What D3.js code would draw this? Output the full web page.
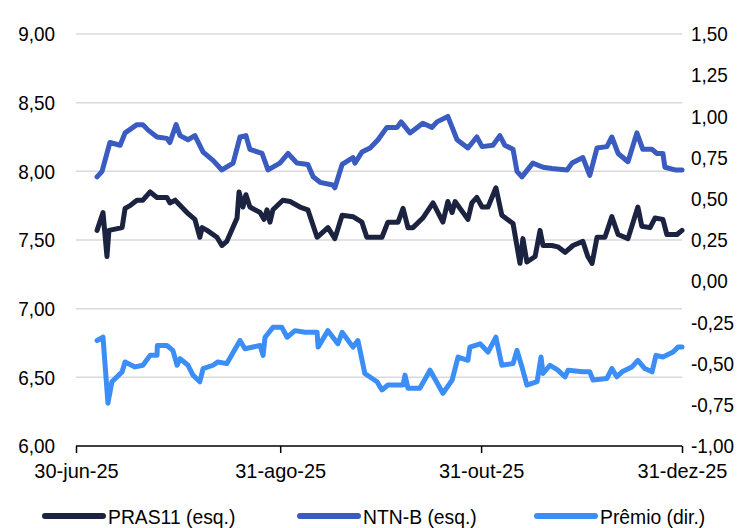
<!DOCTYPE html>
<html>
<head>
<meta charset="utf-8">
<script src="https://cdn.jsdelivr.net/npm/d3@7"></script>
<style>
body { margin: 0; background: #fff; }
text { font-family: "Liberation Sans", Arial, sans-serif; fill: #000; }
</style>
</head>
<body>
<div id="chart"></div>
<script>
// days since 30-jun-25
var ntnbDays = [6.4,7.9,10.3,13.4,14.9,18.5,20.3,21.9,24.6,27.6,28.5,30.4,31.6,34,36.1,38.6,41.6,44.3,47.7,49.8,51.6,52.8,56.5,58.3,61.9,64.4,67.1,70.4,72,74.1,78,78.6,80.8,84.1,84.7,86.8,89.3,91.7,94.4,97.5,98.7,101.4,105.3,108.1,109.6,112.9,115.7,119,121.7,123.3,126.6,128.7,130.2,132.7,133.9,135.4,138.7,141.8,144.5,149.1,150.6,153.9,156,158.2,161.2,162.7,164.6,167.6,170.3,172.1,174.9,176.4,178.2,178.8,181.9,184];
var ntnbVals = [7.96,8.00,8.21,8.19,8.28,8.34,8.34,8.30,8.25,8.24,8.21,8.34,8.26,8.23,8.26,8.14,8.08,8.01,8.06,8.25,8.26,8.16,8.13,8.01,8.06,8.13,8.06,8.05,7.96,7.92,7.90,7.88,8.05,8.10,8.06,8.14,8.17,8.23,8.32,8.32,8.36,8.28,8.35,8.32,8.36,8.40,8.23,8.17,8.25,8.18,8.19,8.26,8.19,8.16,8.00,7.96,8.06,8.03,8.02,8.01,8.06,8.10,7.97,8.17,8.18,8.25,8.13,8.07,8.28,8.16,8.16,8.13,8.13,8.03,8.01,8.01];

var prasDays = [6.4,8.2,9.4,10,14,14.9,16.4,18.5,20.3,22.5,24.6,27.6,28.5,30.1,33.7,36.1,37.6,38.3,39.8,42.8,44.3,45.8,48.9,49.5,50.7,51.6,52.8,55.9,57.1,58,58.9,59.8,62.8,65,68,70.4,73.2,76.5,78.6,80.8,84.1,86.8,88.3,90.8,92.9,94.7,97.8,99.3,100.8,102.3,105.3,108.4,111.4,112.9,114.2,115.1,119,120.2,121.7,123.3,125.1,127.5,129.3,132.7,134.8,135.7,136.9,139.4,140.9,141.8,144.5,146.3,148.5,150.9,153.9,155.4,156.7,158.2,160.6,162.7,164.6,167.6,170.6,171.8,174.3,175.8,178.2,179.4,182.5,184];
var prasVals = [7.57,7.70,7.38,7.57,7.59,7.73,7.75,7.79,7.79,7.85,7.81,7.81,7.77,7.79,7.70,7.65,7.52,7.59,7.57,7.52,7.46,7.49,7.66,7.85,7.74,7.83,7.74,7.70,7.65,7.72,7.63,7.72,7.79,7.78,7.74,7.72,7.52,7.59,7.51,7.68,7.67,7.63,7.52,7.52,7.52,7.63,7.63,7.73,7.59,7.59,7.66,7.77,7.63,7.78,7.70,7.78,7.65,7.77,7.81,7.74,7.74,7.88,7.68,7.62,7.33,7.51,7.34,7.38,7.57,7.46,7.46,7.45,7.41,7.46,7.49,7.38,7.33,7.52,7.52,7.67,7.54,7.51,7.74,7.60,7.59,7.66,7.65,7.54,7.54,7.57];

var premioDays = [6.4,8.2,9.7,10.9,14,14.9,17.9,20.3,22.5,24.6,24.7,27.6,29.4,30.7,31.6,34,35.5,37.6,38.6,41.6,43.1,45.8,49.8,51.3,55.9,56.8,57.4,59.8,62.5,64.1,66.5,69.5,73.2,73.5,76.5,79.5,80.8,84.1,85.6,87.7,91.4,92.9,94.7,99.3,99.9,100.8,104.4,107.5,111.4,114.2,116,119,119.6,122.7,125.1,127.5,129.3,132.7,133.9,135.4,136.9,140,141.2,141.8,143.9,146.3,148.5,149.4,153.9,156,157,161.2,162.7,164.2,165.8,168.8,170.6,172.7,174.9,176.1,178.2,181.3,182.8,184];
var premioVals = [-0.36,-0.34,-0.74,-0.61,-0.55,-0.49,-0.52,-0.51,-0.45,-0.45,-0.39,-0.39,-0.42,-0.51,-0.47,-0.51,-0.57,-0.61,-0.53,-0.51,-0.49,-0.50,-0.36,-0.41,-0.39,-0.45,-0.34,-0.28,-0.28,-0.34,-0.30,-0.31,-0.31,-0.40,-0.30,-0.38,-0.31,-0.40,-0.36,-0.56,-0.61,-0.66,-0.63,-0.63,-0.57,-0.65,-0.65,-0.54,-0.68,-0.60,-0.46,-0.48,-0.40,-0.38,-0.43,-0.34,-0.51,-0.50,-0.42,-0.52,-0.63,-0.61,-0.46,-0.56,-0.51,-0.54,-0.58,-0.54,-0.55,-0.55,-0.60,-0.59,-0.53,-0.58,-0.55,-0.52,-0.48,-0.53,-0.55,-0.45,-0.46,-0.43,-0.40,-0.40];

var leftTicks = [6, 6.5, 7, 7.5, 8, 8.5, 9];
var rightTicks = [-1, -0.75, -0.5, -0.25, 0, 0.25, 0.5, 0.75, 1, 1.25, 1.5];
var xTickDays = [0, 62, 123, 184];
var xTickLabels = ["30-jun-25", "31-ago-25", "31-out-25", "31-dez-25"];
var seriesNames = ["PRAS11 (esq.)", "NTN-B (esq.)", "Prêmio (dir.)"];
var colors = ["#1c2340", "#3a5bc0", "#3a8ef5"];

var width = 748, height = 528;
var fontSize = 21;
var start = Date.UTC(2025, 5, 30);
function toDate(d) { return new Date(start + d * 864e5); }

// squeeze text a bit, the original uses a narrow face
function narrow(sel, k) {
    sel.each(function () {
        var w = this.getComputedTextLength();
        d3.select(this).attr("textLength", w * k).attr("lengthAdjust", "spacingAndGlyphs");
    });
}

var svg = d3.select("#chart").append("svg")
    .attr("width", width).attr("height", height);

var x = d3.scaleUtc().domain([toDate(0), toDate(184)]).range([76, 682]);
var yL = d3.scaleLinear().domain([6, 9]).range([446, 34]);
var yR = d3.scaleLinear().domain([-1, 1.5]).range([446, 34]);
var fmt = function (v) { return d3.format(".2f")(v).replace(".", ",").replace("−", "-"); };

//grid
svg.append("g").selectAll("line")
    .data(leftTicks.filter(function (t) { return t > 6; }))
    .enter().append("line")
    .attr("x1", 76).attr("x2", 682)
    .attr("y1", function (d) { return yL(d); }).attr("y2", function (d) { return yL(d); })
    .attr("stroke", "#d9d9d9").attr("stroke-width", 1.5);

//left axis
var leftAxis = svg.append("g")
    .call(d3.axisLeft(yL).tickValues(leftTicks).tickFormat(fmt).tickSize(0).tickPadding(0));
leftAxis.select(".domain").remove();
leftAxis.selectAll("text").attr("x", 55).attr("font-size", fontSize).attr("font-family", null);
narrow(leftAxis.selectAll("text"), 0.9);

//right axis
var rightAxis = svg.append("g")
    .call(d3.axisRight(yR).tickValues(rightTicks).tickFormat(fmt).tickSize(0).tickPadding(0));
rightAxis.select(".domain").remove();
rightAxis.selectAll("text").attr("x", 691).attr("font-size", fontSize).attr("font-family", null);
narrow(rightAxis.selectAll("text"), 0.9);

//x axis
var xAxis = svg.append("g")
    .attr("transform", "translate(0,446)")
    .call(d3.axisBottom(x).tickValues(xTickDays.map(toDate))
        .tickFormat(function (d, i) { return xTickLabels[i]; }).tickSize(7).tickPadding(10));
xAxis.select(".domain").attr("stroke", "#000").attr("stroke-width", 1.5).attr("d", "M76,0H682");
xAxis.selectAll("line").attr("stroke", "#000").attr("stroke-width", 1.5);
xAxis.selectAll("text").attr("font-size", fontSize).attr("font-family", null);
narrow(xAxis.selectAll("text"), 0.95);

//lines
var lineL = d3.line().x(function (d) { return x(toDate(d[0])); }).y(function (d) { return yL(d[1]); });
var lineR = d3.line().x(function (d) { return x(toDate(d[0])); }).y(function (d) { return yR(d[1]); });

var series = [
    { path: lineL(d3.zip(prasDays, prasVals)), color: colors[0] },
    { path: lineL(d3.zip(ntnbDays, ntnbVals)), color: colors[1] },
    { path: lineR(d3.zip(premioDays, premioVals)), color: colors[2] }
];
series.forEach(function (s) {
    svg.append("path").attr("d", s.path)
        .attr("fill", "none").attr("stroke", s.color)
        .attr("stroke-width", 5).attr("stroke-linejoin", "round").attr("stroke-linecap", "round");
});

//legend
var legX = [45, 300, 537];
var leg = svg.append("g").selectAll("g").data(seriesNames).enter().append("g")
    .attr("transform", function (d, i) { return "translate(" + legX[i] + ",516)"; });
leg.append("line").attr("x1", 0).attr("x2", 58)
    .attr("stroke", function (d, i) { return colors[i]; })
    .attr("stroke-width", 6).attr("stroke-linecap", "round");
leg.append("text").attr("x", 63).attr("y", 8).attr("font-size", fontSize)
    .text(function (d) { return d; });
narrow(leg.selectAll("text"), 0.92);
</script>
</body>
</html>
